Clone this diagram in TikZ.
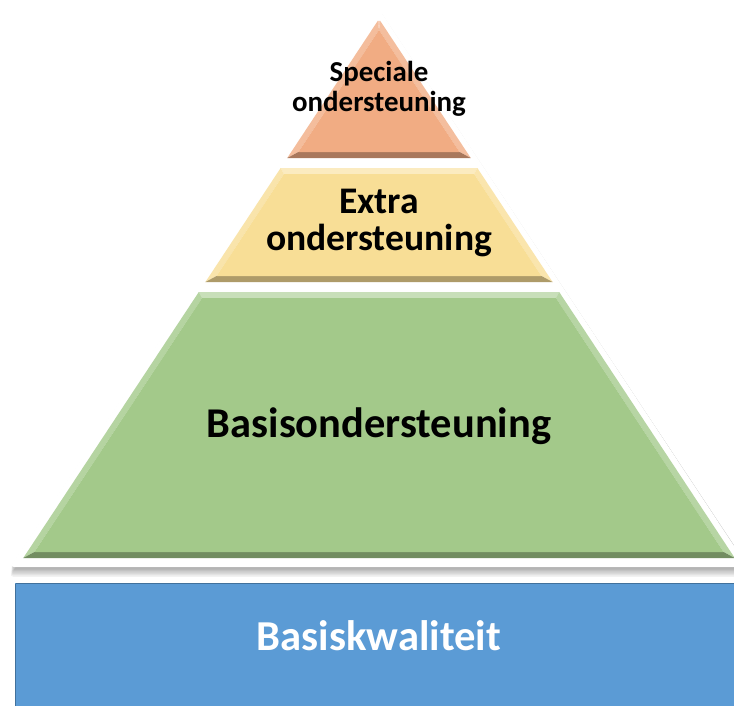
\documentclass[tikz,border=0pt]{standalone}
\usepackage{fontspec}
\setmainfont{Carlito}
\definecolor{orangeL}{HTML}{F1AC83}
\definecolor{yellowL}{HTML}{F8DE96}
\definecolor{greenL}{HTML}{A3C98A}
\definecolor{blueL}{HTML}{5B9BD5}
\definecolor{blueD}{HTML}{41719C}
\newcommand\pyrlayer[3]{%
  \pgfmathsetmacro\lOt{#1}%
  \pgfmathsetmacro\lOb{#2}%
  \pgfmathsetmacro\lOht{0.66*(\lOt-19)}%
  \pgfmathsetmacro\lOhb{0.66*(\lOb-19)}%
  \pgfmathsetmacro\lIt{max(\lOt+6,29.9)}%
  \pgfmathsetmacro\lIb{\lOb-6}%
  \pgfmathsetmacro\lIht{max(0.66*(\lIt-19)-7.2,0)}%
  \pgfmathsetmacro\lIhb{0.66*(\lIb-19)-7.2}%
  \fill[#3!60!white] ({379-\lOht},\lOt) -- ({379+\lOht},\lOt) -- ({379+\lIht},\lIt) -- ({379-\lIht},\lIt) -- cycle;
  \fill[#3!80!white] ({379-\lOht},\lOt) -- ({379-\lIht},\lIt) -- ({379-\lIhb},\lIb) -- ({379-\lOhb},\lOb) -- cycle;
  \fill[#3!78!white] ({379+\lOht},\lOt) -- ({379+\lIht},\lIt) -- ({379+\lIhb},\lIb) -- ({379+\lOhb},\lOb) -- cycle;
  \fill[#3!70!black] ({379-\lOhb},\lOb) -- ({379+\lOhb},\lOb) -- ({379+\lIhb},\lIb) -- ({379-\lIhb},\lIb) -- cycle;
  \fill[#3] ({379-\lIht},\lIt) -- ({379+\lIht},\lIt) -- ({379+\lIhb},\lIb) -- ({379-\lIhb},\lIb) -- cycle;
}
\tikzset{
  lbl/.style={inner sep=0pt, anchor=base, text=black},
}
\begin{document}
\begin{tikzpicture}[x=1bp,y=-1bp]
\useasboundingbox (0,0) rectangle (734,706);
\clip (0,0) rectangle (734,706);
\fill[white] (0,0) rectangle (734,706);
% soft shadow of the white pyramid
\foreach \i in {1,...,7}
  \fill[black,opacity=0.05,rounded corners=4] ({379+0.5*\i},{9+1.1*\i}) -- ({748+1.0*\i},{567+1.4*\i}) -- ({10-0.1*\i},{567+1.4*\i}) -- cycle;
\fill[white,rounded corners=4] (379,9) -- (748,567) -- (10,567) -- cycle;
% layers
\pyrlayer{21}{158}{orangeL}
\pyrlayer{168}{282}{yellowL}
\pyrlayer{292}{558}{greenL}
% base block
\fill[blueL] (15,583) rectangle (745,720);
\draw[blueD,line width=1.4bp] (15.7,583.7) -- (745,583.7);
\draw[blueD,line width=1.4bp] (15.7,583.7) -- (15.7,720);
% labels
\node[lbl,font=\fontsize{29}{30}\selectfont\bfseries] (sp1) at (379,82) {Speciale};
\node[lbl,font=\fontsize{29}{30}\selectfont\bfseries] (sp2) at (379,112) {ondersteuning};
\node[lbl,font=\fontsize{37.7}{38}\selectfont\bfseries] (ex1) at (379,213) {Extra};
\node[lbl,font=\fontsize{37.7}{38}\selectfont\bfseries] (ex2) at (379,250) {ondersteuning};
\node[lbl,font=\fontsize{42.6}{44}\selectfont\bfseries] (bo) at (379,437) {Basisondersteuning};
\node[lbl,font=\fontsize{42.8}{44}\selectfont\bfseries,text=white] (bk) at (379,650) {Basiskwaliteit};
\end{tikzpicture}
\end{document}
